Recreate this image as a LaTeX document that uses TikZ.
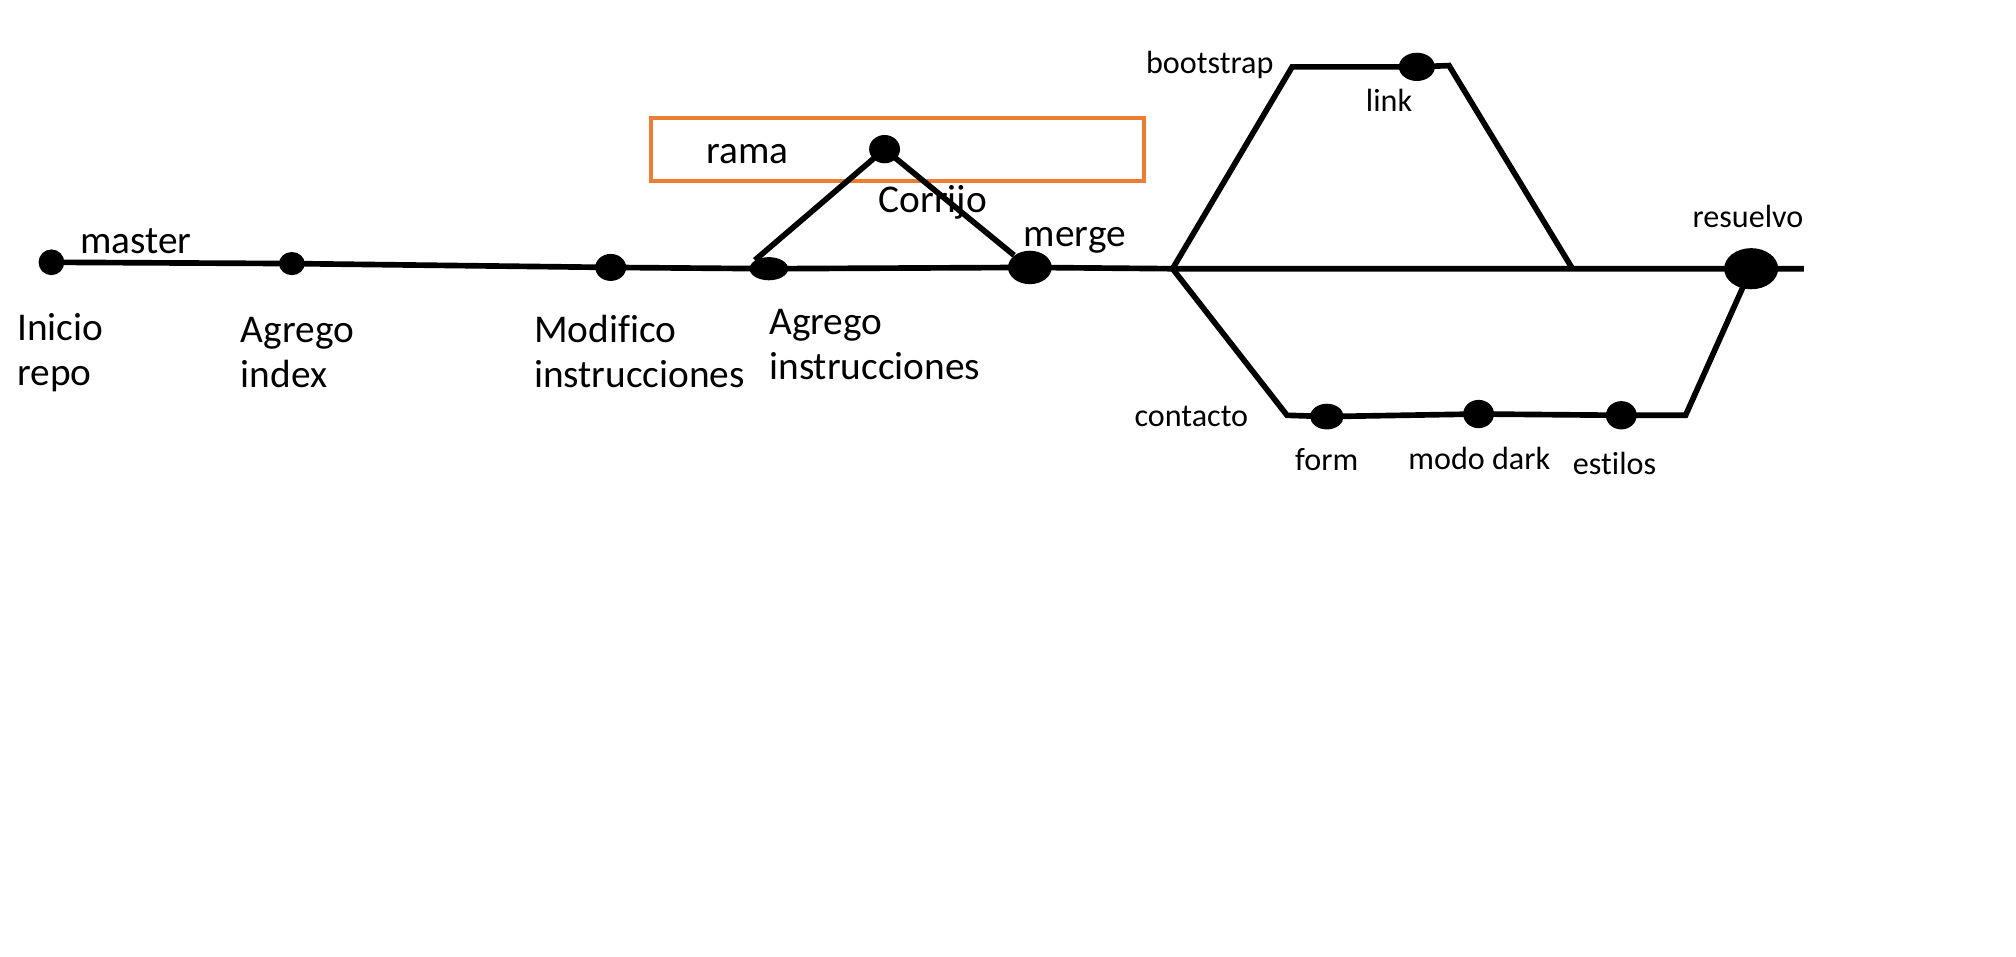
\documentclass[tikz,border=0pt]{standalone}
\usepackage{fontspec}
\setmainfont{Carlito}[RawFeature={-liga;-dlig;-clig}]
\usetikzlibrary{shapes.geometric}
\definecolor{boxorange}{RGB}{237,125,49}
\begin{document}
\begin{tikzpicture}[x=0.5pt,y=-0.5pt,
  edge/.style={line width=2.2pt},
  commit/.style={ellipse, fill=black, inner sep=0pt, draw=none},
  big/.style={font=\fontsize{15.3}{17.5}\selectfont, inner sep=0pt},
  small/.style={font=\fontsize{12.5}{15}\selectfont, inner sep=0pt},
  framebox/.style={draw=boxorange, line width=1.5pt, inner sep=0pt}]
\useasboundingbox (0,0) rectangle (1568,744);

% orange frame of the branch
\node[framebox, minimum width=192pt, minimum height=24.5pt] (ramaBox) at (698,116.5) {};

% commits
\node[commit, minimum width=10pt, minimum height=10pt] (Inicio) at (40,204) {};
\node[commit, minimum width=10pt, minimum height=9pt] (AgIdx) at (227,205) {};
\node[commit, minimum width=12pt, minimum height=10.5pt] (Mod) at (475,208) {};
\node[commit, minimum width=15pt, minimum height=9pt] (AgIns) at (598,209) {};
\node[commit, minimum width=12pt, minimum height=11pt] (Corr) at (688,116) {};
\node[commit, minimum width=17pt, minimum height=13pt] (Merge) at (801,208) {};
\node[commit, minimum width=14pt, minimum height=11pt] (Link) at (1102,52) {};
\node[commit, minimum width=21pt, minimum height=16pt] (Resuelvo) at (1362,209) {};
\node[commit, minimum width=13pt, minimum height=10pt] (Form) at (1032,324) {};
\node[commit, minimum width=12pt, minimum height=11pt] (Dark) at (1150,322) {};
\node[commit, minimum width=12pt, minimum height=11pt] (Estilos) at (1261,323) {};

% junction points
\coordinate (split) at (912,209);
\coordinate (join) at (1223,209);
\coordinate (bsL) at (1005,52);
\coordinate (bsR) at (1127,51);
\coordinate (ctL) at (1001,323);
\coordinate (ctR) at (1311,323);
\coordinate (mainEnd) at (1403,209);

% connectors
\draw[edge] (Inicio.center) -- (AgIdx.center) -- (Mod.center) -- (AgIns.center)
  -- (Merge.center) -- (split) -- (join) -- (Resuelvo.center) -- (mainEnd);
\draw[edge] (AgIns.north west) -- (Corr.center) -- (Merge.north west);
\draw[edge] (split) -- (bsL) -- (Link.center) -- (bsR) -- (join);
\draw[edge] (split) -- (ctL) -- (Form.center) -- (Dark.center) -- (Estilos.center)
  -- (ctR) -- (Resuelvo.center);

% labels
\node[big, anchor=base west] (tMaster) at (62,197) {master};
\node[big, anchor=base west] (tRama) at (549,127) {rama};
\node[big, anchor=base west] (tCorr) at (683,165) {Corrijo};
\node[big, anchor=base west] (tMerge) at (796,192) {merge};
\node[big, anchor=north west, align=left] (tInicio) at (13,243) {Inicio\\repo};
\node[big, anchor=north west, align=left] (tAgIdx) at (187,246) {Agrego\\index};
\node[big, anchor=north west, align=left] (tMod) at (415,245) {Modifico\\instrucciones};
\node[big, anchor=north west, align=left] (tAgIns) at (598,240) {Agrego\\instrucciones};

\node[small, anchor=base west] (tBoot) at (891,57) {bootstrap};
\node[small, anchor=base west] (tLink) at (1062,87) {link};
\node[small, anchor=base west] (tRes) at (1316,177) {resuelvo};
\node[small, anchor=base west] (tCont) at (882,332) {contacto};
\node[small, anchor=base west] (tForm) at (1007,366) {form};
\node[small, anchor=base west] (tDark) at (1095,365) {modo dark};
\node[small, anchor=base west] (tEst) at (1223,369) {estilos};
\end{tikzpicture}
\end{document}
